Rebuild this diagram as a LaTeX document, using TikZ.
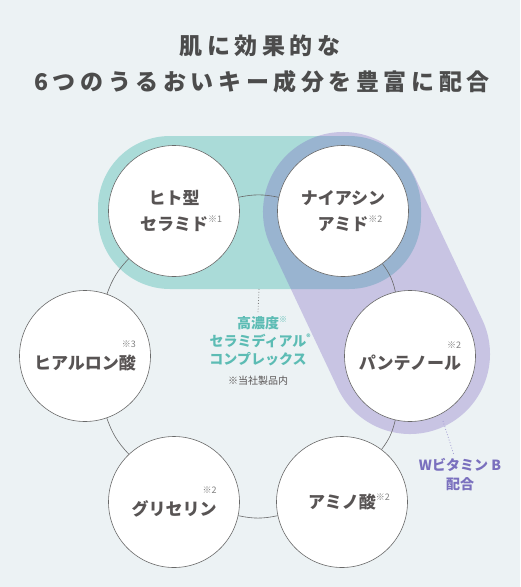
\documentclass[tikz,border=0pt]{standalone}
\usepackage{fontspec}
\setmainfont{Noto Sans CJK JP}
\usetikzlibrary{positioning}

\definecolor{bgcol}{RGB}{236,242,244}
\definecolor{tealband}{RGB}{170,219,216}
\definecolor{purpleband}{RGB}{117,90,190}
\definecolor{tealtxt}{RGB}{92,188,180}
\definecolor{purpletxt}{RGB}{122,112,190}
\definecolor{txtgray}{RGB}{88,84,84}
\definecolor{ringgray}{RGB}{105,105,105}

\newcommand{\kome}[1]{\rlap{\raisebox{0.45em}{\fontsize{9}{9}\selectfont\mdseries\color{gray}※#1}}}
\newcommand{\komeup}[1]{\llap{\raisebox{1.25em}{\fontsize{9}{9}\selectfont\mdseries\color{gray}※#1}}}

\tikzset{
  ingr/.style={circle,draw=ringgray,line width=0.6pt,fill=white,minimum size=131pt,inner sep=0pt,
    align=center,text=txtgray,font=\fontsize{17}{26}\selectfont\bfseries},
  headline/.style={text=black!70,font=\fontsize{23}{26}\selectfont\bfseries\addfontfeature{LetterSpace=20}}
}

\begin{document}
\begin{tikzpicture}[x=1pt,y=-1pt]
  \fill[bgcol] (0,0) rectangle (520,587);
  \useasboundingbox (0,0) rectangle (520,587);

  % title
  \node[headline] (t1) at (260,46) {肌に効果的な};
  \node[headline] (t2) at (262,82) {6つのうるおいキー成分を豊富に配合};

  % bands
  \fill[tealband,rounded corners=72pt] (98,136) rectangle (421,289);
  \draw[purpleband,opacity=.3,line width=160pt,line cap=round] (343,212) -- (410,354);

  % ingredients
  \begin{scope}[every node/.style={ingr}]
    \node (cer) at (174,211) {ヒト型\\セラミド\kome{1}};
    \node (nia) at (343,211) {ナイアシン\\アミド\kome{2}};
    \node (pan) at (410,356) {パンテノール\komeup{2}};
    \node (ami) at (342,502) {アミノ酸\kome{2}};
    \node (gly) at (174,502) {グリセリン\komeup{2}};
    \node (hya) at (85,356)  {ヒアルロン酸\komeup{3}};
  \end{scope}
  \begin{scope}[every edge/.style={draw=ringgray,line width=0.6pt}]
    \path (cer) edge[bend left=12] (nia);
    \path (nia) edge[bend left=12] (pan);
    \path (pan) edge[bend left=12] (ami);
    \path (ami) edge[bend left=12] (gly);
    \path (gly) edge[bend left=12] (hya);
    \path (hya) edge[bend left=12] (cer);
  \end{scope}

  % center text
  \coordinate (tbot) at (259,289);
  \node[text=tealtxt,align=center,font=\fontsize{14}{18}\selectfont\bfseries] (cdesc) at (258,341)
    {高濃度\rlap{\raisebox{0.4em}{\fontsize{8}{8}\selectfont ※}}\\セラミディアル\rlap{\raisebox{0.4em}{\fontsize{8}{8}\selectfont ®}}\\コンプレックス};
  \node[text=txtgray,font=\fontsize{10}{12}\selectfont] (cnote) at (258,381) {※当社製品内};
  \draw[gray,dotted,line width=0.8pt] (tbot) -- (cdesc.north);

  % vitamin B
  \coordinate (pbot) at (443,421);
  \node[text=purpletxt,align=center,font=\fontsize{14}{19}\selectfont\bfseries] (vitb) at (460,475)
    {Wビタミン B\\配合};
  \draw[purpletxt!70,dotted,line width=0.8pt] (pbot) -- ([xshift=-6pt]vitb.north);
\end{tikzpicture}
\end{document}
